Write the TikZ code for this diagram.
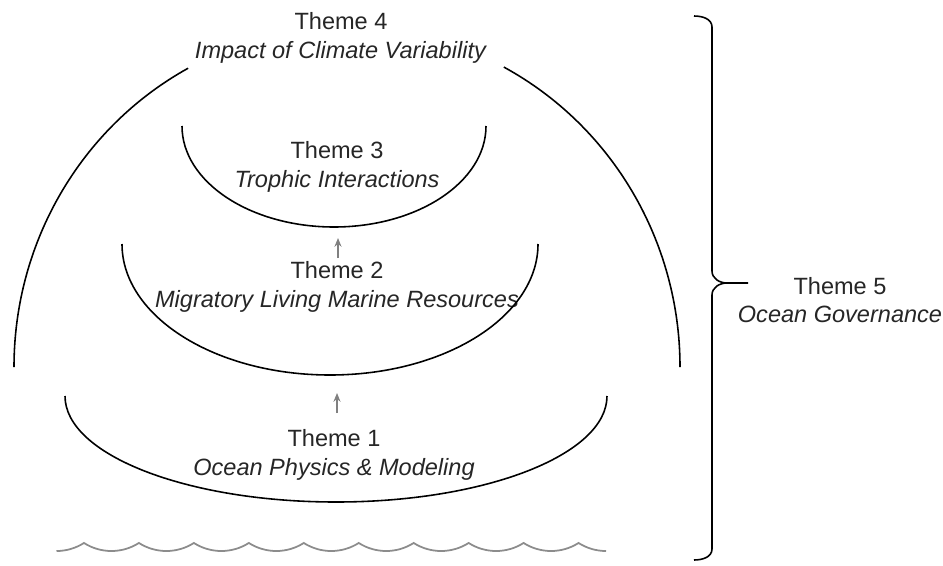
\documentclass[tikz,border=0pt]{standalone}
\usepackage{fontspec}
\setmainfont{Liberation Sans}
\usetikzlibrary{arrows.meta}

\begin{document}
\begin{tikzpicture}[x=0.02cm,y=-0.02cm,
    theme/.style={align=center,text=black!85,font=\fontsize{13.4}{16.2}\selectfont},
    shell/.style={line width=0.9pt},
    uparrow/.style={draw=black!50,line width=0.7pt,-{Stealth[length=5pt,width=4pt]}},
    wave/.style={draw=black!45,line width=1pt}]
  \useasboundingbox (0,0) rectangle (943,565);

  \node[theme] (t4) at (341,38) {Theme 4\\\textit{Impact of Climate Variability}};
  \node[theme] (t3) at (337,167) {Theme 3\\\textit{Trophic Interactions}};
  \node[theme] (t2) at (337,287) {Theme 2\\\textit{Migratory Living Marine Resources}};
  \node[theme] (t1) at (334,455) {Theme 1\\\textit{Ocean Physics \& Modeling}};
  \node[theme] (t5) at (840,300) {Theme 5\\\textit{Ocean Governance}};

  \draw[shell] (14,367) arc[start angle=180,end angle=241.5,x radius=333,y radius=340];
  \draw[shell] (680,367) arc[start angle=0,end angle=-61.9,x radius=333,y radius=340];
  \draw[shell] (182,126) arc[start angle=180,end angle=0,x radius=152,y radius=101];
  \draw[shell] (122,244) arc[start angle=180,end angle=0,x radius=208,y radius=131];
  \draw[shell] (65,396) arc[start angle=180,end angle=0,x radius=271,y radius=106];

  \coordinate (a1s) at (337,413);
  \coordinate (a1e) at (337,393);
  \coordinate (a2s) at (338,258);
  \coordinate (a2e) at (338,238);
  \draw[uparrow] (a1s) -- (a1e);
  \draw[uparrow] (a2s) -- (a2e);

  \draw[wave] (56.5,551) arc[start angle=90,end angle=57.4,radius=51]
    \foreach \i in {1,...,9} {arc[start angle=122.6,end angle=57.4,radius=51]}
    arc[start angle=122.6,end angle=90,radius=51];

  \coordinate (btop) at (694,16);
  \coordinate (bbot) at (694,560);
  \coordinate (btip) at (748,283);
  \draw[shell] (btop) to[out=0,in=90] (712,27) -- (712,271)
    to[out=-90,in=180] (727,283) -- (btip);
  \draw[shell] (727,283) to[out=180,in=90] (712,295) -- (712,549)
    to[out=-90,in=0] (bbot);
\end{tikzpicture}
\end{document}
